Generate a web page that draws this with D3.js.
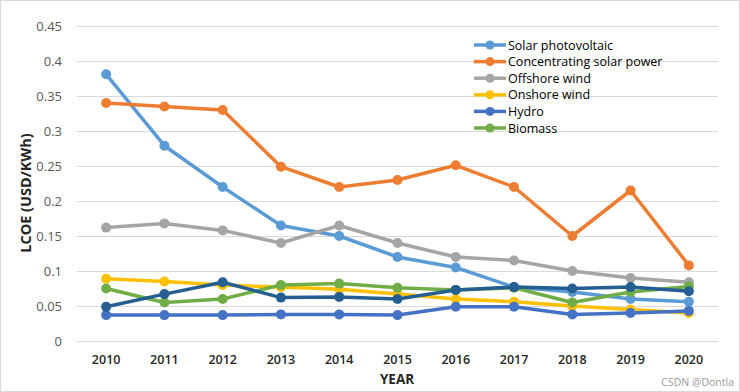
<!DOCTYPE html>
<html><head><meta charset="utf-8">
<script src="https://cdn.jsdelivr.net/npm/d3@7"></script>
<style>body{margin:0;background:#fff}svg{display:block}</style>
</head><body>
<svg id="c" width="740" height="392"></svg>
<script>
const years = [2010,2011,2012,2013,2014,2015,2016,2017,2018,2019,2020];
const yTicks = [0,0.05,0.1,0.15,0.2,0.25,0.3,0.35,0.4,0.45];
const solarPV   = [0.381,0.279,0.220,0.165,0.150,0.120,0.105,0.077,0.070,0.060,0.056];
const csp       = [0.340,0.335,0.330,0.249,0.220,0.230,0.251,0.220,0.150,0.215,0.108];
const offshore  = [0.162,0.168,0.158,0.140,0.165,0.140,0.120,0.115,0.100,0.090,0.084];
const onshore   = [0.089,0.085,0.080,0.077,0.074,0.067,0.060,0.056,0.050,0.045,0.040];
const hydro     = [0.037,0.037,0.037,0.038,0.038,0.037,0.049,0.049,0.038,0.040,0.043];
const biomass   = [0.075,0.055,0.060,0.080,0.082,0.076,0.073,0.076,0.055,0.070,0.078];
const geothermal= [0.049,0.067,0.084,0.062,0.063,0.060,0.073,0.077,0.075,0.077,0.071];

const series = [
  {name:"Solar photovoltaic", values:solarPV, color:"#5B9BD5", legend:true},
  {name:"Concentrating solar power", values:csp, color:"#ED7D31", legend:true},
  {name:"Offshore wind", values:offshore, color:"#A5A5A5", legend:true},
  {name:"Onshore wind", values:onshore, color:"#FFC000", legend:true},
  {name:"Hydro", values:hydro, color:"#4472C4", legend:true},
  {name:"Biomass", values:biomass, color:"#70AD47", legend:true},
  {name:"Geothermal", values:geothermal, color:"#255E91", legend:false}
];

const svg = d3.select("#c");
const font = "'Open Sans', 'Liberation Sans', sans-serif";
svg.append("rect").attr("x",0.5).attr("y",0.5).attr("width",739).attr("height",391)
  .attr("fill","#fff").attr("stroke","#d9d9d9");

const pLeft = 77, pRight = 718, pTop = 26, pBottom = 341;
const x = d3.scaleBand().domain(years).range([pLeft,pRight]);
const y = d3.scaleLinear().domain([0,0.45]).range([pBottom,pTop]);
const cx = d => x(d) + x.bandwidth()/2;

// grid
svg.append("g").selectAll("line").data(yTicks).join("line")
  .attr("x1",pLeft).attr("x2",pRight)
  .attr("y1",d=>Math.round(y(d))+0.5).attr("y2",d=>Math.round(y(d))+0.5)
  .attr("stroke","#d9d9d9").attr("stroke-width",1);

// y axis labels
const yAxis = d3.axisLeft(y).tickValues(yTicks).tickSize(0).tickPadding(0)
  .tickFormat(d => String(+d.toFixed(2)));
const ga = svg.append("g").attr("transform",`translate(62,0)`).call(yAxis);
ga.select(".domain").remove();
ga.selectAll("text").attr("font-family",font).attr("font-size",13).attr("fill","#595959");

// x axis labels
const xAxis = d3.axisBottom(x).tickSize(0).tickPadding(0);
const gx = svg.append("g").attr("transform",`translate(0,355)`).call(xAxis);
gx.select(".domain").remove();
gx.selectAll("text").attr("font-family",font).attr("font-size",12.5).attr("font-weight","600").attr("fill","#262626");

// titles
svg.append("text").attr("x",397).attr("y",384).attr("text-anchor","middle")
  .attr("font-family",font).attr("font-size",13.5).attr("font-weight","bold").attr("fill","#262626").text("YEAR");
svg.append("text").attr("transform","translate(31,193) rotate(-90)").attr("text-anchor","middle")
  .attr("font-family",font).attr("font-size",14.5).attr("font-weight","bold").attr("fill","#262626").text("LCOE (USD/KWh)");

// lines
const line = d3.line().x((d,i)=>cx(years[i])).y(d=>y(d));
series.forEach(s=>{
  const g = svg.append("g");
  g.append("path").attr("d",line(s.values)).attr("fill","none")
    .attr("stroke",s.color).attr("stroke-width",3.5).attr("stroke-linejoin","round");
  g.selectAll("circle").data(s.values).join("circle")
    .attr("cx",(d,i)=>cx(years[i])).attr("cy",d=>y(d)).attr("r",5).attr("fill",s.color);
});

// legend
const leg = svg.append("g").attr("transform","translate(474,45)");
series.filter(s=>s.legend).forEach((s,i)=>{
  const gy = i*16.6;
  leg.append("line").attr("x1",0).attr("x2",32).attr("y1",gy).attr("y2",gy)
    .attr("stroke",s.color).attr("stroke-width",3.5);
  leg.append("circle").attr("cx",16).attr("cy",gy).attr("r",4.5).attr("fill",s.color);
  leg.append("text").attr("x",34).attr("y",gy+4.5).attr("font-family",font).attr("font-size",12.5)
    .attr("fill","#000").text(s.name);
});

// watermark
svg.append("text").attr("x",734).attr("y",386).attr("text-anchor","end")
  .attr("font-family",font).attr("font-size",10.5).attr("fill","#9a9a9a").text("CSDN @Dontla");
</script>
</body></html>
